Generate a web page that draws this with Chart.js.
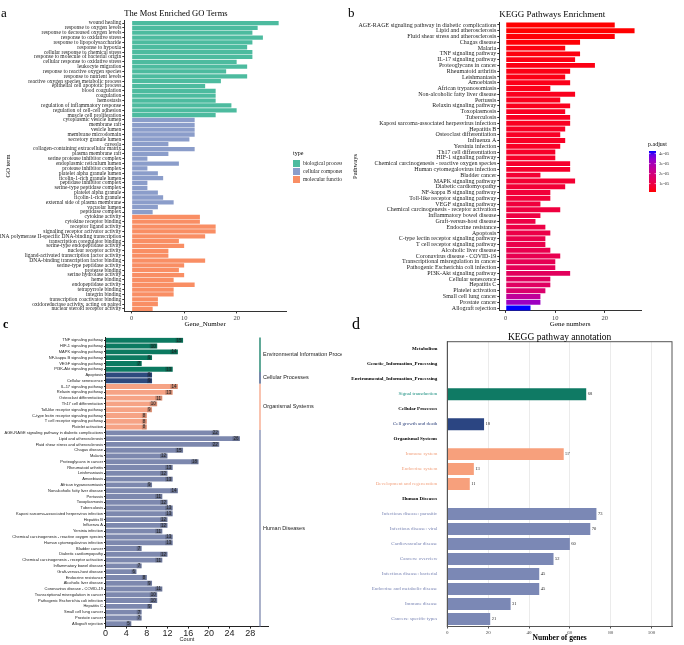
<!DOCTYPE html>
<html>
<head>
<meta charset="utf-8">
<script src="https://cdn.jsdelivr.net/npm/chart.js@4.4.0/dist/chart.umd.min.js"></script>
<style>
  html, body { margin: 0; padding: 0; background: #fff; }
  #wrap { position: relative; width: 684px; height: 645px; overflow: hidden; }
  canvas { position: absolute; }
</style>
</head>
<body>
<div id="wrap">
  <canvas id="goChart" width="342" height="330" style="left:0;top:0"></canvas>
  <canvas id="keggChart" width="342" height="330" style="left:342px;top:0"></canvas>
  <canvas id="classChart" width="342" height="330" style="left:0;top:315px"></canvas>
  <canvas id="annoChart" width="342" height="330" style="left:342px;top:315px"></canvas>
</div>
<script>
const SERIF = '"Liberation Serif", "Times New Roman", serif';
const SANS = '"Liberation Sans", Arial, sans-serif';

// ---- panel a : GO terms ----
const bpTerms = ['wound healing', 'response to oxygen levels', 'response to decreased oxygen levels', 'response to oxidative stress',
  'response to lipopolysaccharide', 'response to hypoxia', 'cellular response to chemical stress', 'response to molecule of bacterial origin',
  'cellular response to oxidative stress', 'leukocyte migration', 'response to reactive oxygen species', 'response to nutrient levels',
  'reactive oxygen species metabolic process', 'epithelial cell apoptotic process', 'blood coagulation', 'coagulation', 'hemostasis',
  'regulation of inflammatory response', 'regulation of cell-cell adhesion', 'muscle cell proliferation'];
const bpCounts = [28, 24, 23, 25, 23, 22, 23, 23, 20, 22, 18, 22, 17, 14, 16, 16, 16, 19, 20, 16];
const ccTerms = ['cytoplasmic vesicle lumen', 'membrane raft', 'vesicle lumen', 'membrane microdomain', 'secretory granule lumen', 'caveola',
  'collagen-containing extracellular matrix', 'plasma membrane raft', 'serine protease inhibitor complex', 'endoplasmic reticulum lumen',
  'protease inhibitor complex', 'platelet alpha granule lumen', 'ficolin-1-rich granule lumen', 'peptidase inhibitor complex',
  'serine-type peptidase complex', 'platelet alpha granule', 'ficolin-1-rich granule', 'external side of plasma membrane',
  'vacuolar lumen', 'peptidase complex'];
const ccCounts = [12, 12, 12, 12, 11, 7, 12, 7, 3, 9, 3, 5, 6, 3, 3, 5, 6, 8, 5, 4];
const mfTerms = ['cytokine activity', 'cytokine receptor binding', 'receptor ligand activity', 'signaling receptor activator activity',
  'RNA polymerase II-specific DNA-binding transcription', 'transcription coregulator binding', 'serine-type endopeptidase activity',
  'nuclear receptor activity', 'ligand-activated transcription factor activity', 'DNA-binding transcription factor binding',
  'serine-type peptidase activity', 'protease binding', 'serine hydrolase activity', 'heme binding', 'endopeptidase activity',
  'tetrapyrrole binding', 'integrin binding', 'transcription coactivator binding', 'oxidoreductase activity, acting on paired',
  'nuclear steroid receptor activity'];
const mfCounts = [13, 13, 16, 16, 14, 9, 10, 7, 7, 14, 10, 9, 10, 8, 12, 8, 8, 5, 5, 4];
const goTypes = ['biological process', 'cellular component', 'molecular function'];
const goColors = ['#4dbb9f', '#8b9dca', '#f98e64'];

// ---- panel b : KEGG enrichment ----
const keggPathways = ['AGE-RAGE signaling pathway in diabetic complications', 'Lipid and atherosclerosis', 'Fluid shear stress and atherosclerosis',
  'Chagas disease', 'Malaria', 'TNF signaling pathway', 'IL-17 signaling pathway', 'Proteoglycans in cancer', 'Rheumatoid arthritis',
  'Leishmaniasis', 'Amoebiasis', 'African trypanosomiasis', 'Non-alcoholic fatty liver disease', 'Pertussis', 'Relaxin signaling pathway',
  'Toxoplasmosis', 'Tuberculosis', 'Kaposi sarcoma-associated herpesvirus infection', 'Hepatitis B', 'Osteoclast differentiation',
  'Influenza A', 'Yersinia infection', 'Th17 cell differentiation', 'HIF-1 signaling pathway',
  'Chemical carcinogenesis - reactive oxygen species', 'Human cytomegalovirus infection', 'Bladder cancer', 'MAPK signaling pathway',
  'Diabetic cardiomyopathy', 'NF-kappa B signaling pathway', 'Toll-like receptor signaling pathway', 'VEGF signaling pathway',
  'Chemical carcinogenesis - receptor activation', 'Inflammatory bowel disease', 'Graft-versus-host disease', 'Endocrine resistance',
  'Apoptosis', 'C-type lectin receptor signaling pathway', 'T cell receptor signaling pathway', 'Alcoholic liver disease',
  'Coronavirus disease - COVID-19', 'Transcriptional misregulation in cancer', 'Pathogenic Escherichia coli infection',
  'PI3K-Akt signaling pathway', 'Cellular senescence', 'Hepatitis C', 'Platelet activation', 'Small cell lung cancer',
  'Prostate cancer', 'Allograft rejection'];
const keggCounts = [22, 26, 22, 15, 12, 15, 14, 18, 13, 12, 13, 9, 14, 11, 13, 12, 13, 13, 12, 11, 12, 11, 10, 10, 13, 13, 7, 14, 12,
  9, 9, 7, 11, 7, 6, 8, 9, 8, 8, 9, 11, 10, 10, 13, 9, 9, 8, 7, 7, 5];
const keggPadj = [0.16, 0.16, 0.2, 0.2, 0.25, 0.25, 0.3, 0.3, 0.3, 0.3, 0.35, 0.35, 0.4, 0.4, 0.4, 0.45, 0.45, 0.45, 0.5, 0.5, 0.5,
  0.5, 0.55, 0.55, 0.6, 0.6, 0.7, 0.7, 0.75, 0.8, 0.8, 0.85, 0.9, 0.95, 1.0, 1.0, 1.05, 1.1, 1.1, 1.15, 1.2, 1.25, 1.3, 1.4, 1.45,
  1.5, 1.7, 2.5, 3.2, 4.26].map(v => v * 1e-5);
const padjTicks = [1e-5, 2e-5, 3e-5, 4e-5];

// ---- panel c : KEGG classes ----
const classGroups = ['Environmental Information Processing', 'Cellular Processes', 'Organismal Systems', 'Human Diseases'];
const classColors = ['#0c7a61', '#2e4a7e', '#f6a385', '#7d88ae'];
const envPathways = ['TNF signaling pathway', 'HIF-1 signaling pathway', 'MAPK signaling pathway', 'NF-kappa B signaling pathway',
  'VEGF signaling pathway', 'PI3K-Akt signaling pathway'];
const envCounts = [15, 10, 14, 9, 7, 13];
const cellPathways = ['Apoptosis', 'Cellular senescence'];
const cellCounts = [9, 9];
const orgPathways = ['IL-17 signaling pathway', 'Relaxin signaling pathway', 'Osteoclast differentiation', 'Th17 cell differentiation',
  'Toll-like receptor signaling pathway', 'C-type lectin receptor signaling pathway', 'T cell receptor signaling pathway', 'Platelet activation'];
const orgCounts = [14, 13, 11, 10, 9, 8, 8, 8];
const hdPathways = ['AGE-RAGE signaling pathway in diabetic complications', 'Lipid and atherosclerosis', 'Fluid shear stress and atherosclerosis',
  'Chagas disease', 'Malaria', 'Proteoglycans in cancer', 'Rheumatoid arthritis', 'Leishmaniasis', 'Amoebiasis', 'African trypanosomiasis',
  'Nonalcoholic fatty liver disease', 'Pertussis', 'Toxoplasmosis', 'Tuberculosis', 'Kaposi sarcoma-associated herpesvirus infection',
  'Hepatitis B', 'Influenza A', 'Yersinia infection', 'Chemical carcinogenesis - reactive oxygen species', 'Human cytomegalovirus infection',
  'Bladder cancer', 'Diabetic cardiomyopathy', 'Chemical carcinogenesis - receptor activation', 'Inflammatory bowel disease',
  'Graft-versus-host disease', 'Endocrine resistance', 'Alcoholic liver disease', 'Coronavirus disease - COVID-19',
  'Transcriptional misregulation in cancer', 'Pathogenic Escherichia coli infection', 'Hepatitis C', 'Small cell lung cancer',
  'Prostate cancer', 'Allograft rejection'];
const hdCounts = [22, 26, 22, 15, 12, 18, 13, 12, 13, 9, 14, 11, 12, 13, 13, 12, 12, 11, 13, 13, 7, 12, 11, 7, 6, 8, 9, 11, 10, 10,
  9, 7, 7, 5];
const countTicks = [0, 4, 8, 12, 16, 20, 24, 28];

// ---- panel d : KEGG annotation ----
const annoLabels = ['Metabolism', 'Genetic_Information_Processing', 'Environmental_Information_Processing', 'Signal transduction',
  'Cellular Processes', 'Cell growth and death', 'Organismal Systems', 'Immune system', 'Endocrine system',
  'Development and regeneration', 'Human Diseases', 'Infectious disease: parasitic', 'Infectious disease: viral',
  'Cardiovascular disease', 'Cancers: overview', 'Infectious disease: bacterial', 'Endocrine and metabolic disease',
  'Immune disease', 'Cancers: specific types'];
const annoGenes = [null, null, null, 68, null, 18, null, 57, 13, 11, null, 73, 70, 60, 52, 45, 45, 31, 21];
const annoGroup = ['head', 'head', 'head', 'env', 'head', 'cell', 'head', 'org', 'org', 'org', 'head', 'hd', 'hd', 'hd', 'hd', 'hd',
  'hd', 'hd', 'hd'];
const annoBarColor = { env: '#0f7a64', cell: '#2b4582', org: '#f7a07c', hd: '#7b88b5' };
const annoTextColor = { head: '#000', env: '#1b8f80', cell: '#2b3f7a', org: '#f2a27f', hd: '#7b86b5' };

// red -> blue ramp interpolated in Lab, as ggplot does
function toLab(hex) {
  const n = parseInt(hex.slice(1), 16);
  const lin = c => { c /= 255; return c <= 0.04045 ? c / 12.92 : Math.pow((c + 0.055) / 1.055, 2.4); };
  const R = lin(n >> 16), G = lin((n >> 8) & 255), B = lin(n & 255);
  const X = (R * 0.4124 + G * 0.3576 + B * 0.1805) / 0.95047;
  const Y = R * 0.2126 + G * 0.7152 + B * 0.0722;
  const Z = (R * 0.0193 + G * 0.1192 + B * 0.9505) / 1.08883;
  const f = t => t > 0.008856 ? Math.cbrt(t) : 7.787 * t + 16 / 116;
  return [116 * f(Y) - 16, 500 * (f(X) - f(Y)), 200 * (f(Y) - f(Z))];
}
function fromLab(L, a, b) {
  const fy = (L + 16) / 116, fx = fy + a / 500, fz = fy - b / 200;
  const inv = t => t > 0.206893 ? t * t * t : (t - 16 / 116) / 7.787;
  const X = inv(fx) * 0.95047, Y = inv(fy), Z = inv(fz) * 1.08883;
  const gam = c => {
    c = c <= 0.0031308 ? 12.92 * c : 1.055 * Math.pow(c, 1 / 2.4) - 0.055;
    return Math.round(Math.min(1, Math.max(0, c)) * 255);
  };
  return 'rgb(' + gam(X * 3.2406 - Y * 1.5372 - Z * 0.4986) + ',' + gam(-X * 0.9689 + Y * 1.8758 + Z * 0.0415) + ',' +
    gam(X * 0.0557 - Y * 0.2040 + Z * 1.0570) + ')';
}
const labLow = toLab('#ff0000'), labHigh = toLab('#0000ff');
const pMin = Math.min(...keggPadj), pMax = Math.max(...keggPadj);
function padjColor(p) {
  const t = (p - pMin) / (pMax - pMin);
  return fromLab(labLow[0] + (labHigh[0] - labLow[0]) * t, labLow[1] + (labHigh[1] - labLow[1]) * t,
    labLow[2] + (labHigh[2] - labLow[2]) * t);
}

const points = (terms, counts) => terms.map((t, i) => ({ y: t, x: counts[i] }));
const fixTicks = vals => scale => { scale.ticks = vals.map(v => ({ value: v })); };

// ===== a =====
const goDecor = {
  id: 'goDecor',
  afterDraw(chart) {
    const ctx = chart.ctx;
    ctx.save();
    ctx.fillStyle = '#000';
    ctx.textBaseline = 'middle';
    ctx.font = '13px ' + SERIF;
    ctx.fillText('a', 1, 14);
    ctx.font = '8.5px ' + SERIF;
    ctx.fillText('The Most Enriched GO Terms', chart.chartArea.left, 14);
    ctx.font = '6px ' + SERIF;
    ctx.fillText('type', 293, 153);
    goTypes.forEach((t, i) => {
      ctx.fillStyle = goColors[i];
      ctx.fillRect(293, 160 + i * 8, 7, 7);
      ctx.fillStyle = '#222';
      ctx.font = '5.5px ' + SERIF;
      ctx.fillText(t, 303, 163.5 + i * 8);
    });
    ctx.restore();
  }
};

new Chart(document.getElementById('goChart'), {
  type: 'bar',
  data: {
    labels: bpTerms.concat(ccTerms, mfTerms),
    datasets: [
      { label: goTypes[0], data: points(bpTerms, bpCounts), backgroundColor: goColors[0] },
      { label: goTypes[1], data: points(ccTerms, ccCounts), backgroundColor: goColors[1] },
      { label: goTypes[2], data: points(mfTerms, mfCounts), backgroundColor: goColors[2] }
    ]
  },
  options: {
    indexAxis: 'y',
    responsive: false,
    animation: false,
    layout: { padding: { left: 0, top: 20.6, right: 56, bottom: 0 } },
    datasets: { bar: { grouped: false, barPercentage: 0.88, categoryPercentage: 1 } },
    plugins: { legend: { display: false }, tooltip: { enabled: false } },
    scales: {
      x: {
        type: 'linear', min: -1.4, max: 29.4,
        afterBuildTicks: fixTicks([0, 10, 20]),
        afterFit: s => { s.height = 18.6; },
        grid: { drawOnChartArea: false, tickLength: 2, color: '#333' },
        border: { color: '#333' },
        ticks: { font: { family: SERIF, size: 6.5 }, color: '#444', padding: 1, maxRotation: 0 },
        title: { display: true, text: 'Gene_Number', font: { family: SERIF, size: 7 }, color: '#000', padding: { top: 0, bottom: 2 } }
      },
      y: {
        afterFit: s => { s.width = 124.3; },
        grid: { drawOnChartArea: false, offset: false, tickLength: 2, color: '#333' },
        border: { color: '#333' },
        ticks: { autoSkip: false, font: { family: SERIF, size: 5.5 }, color: '#222', padding: 1 },
        title: { display: true, text: 'GO term', font: { family: SERIF, size: 6.5 }, color: '#000', padding: { top: 4, bottom: 0 } }
      }
    }
  },
  plugins: [goDecor]
});

// ===== b =====
const keggDecor = {
  id: 'keggDecor',
  afterDraw(chart) {
    const ctx = chart.ctx;
    ctx.save();
    ctx.fillStyle = '#000';
    ctx.textBaseline = 'middle';
    ctx.font = '13px ' + SERIF;
    ctx.fillText('b', 6, 14);
    ctx.font = '9px ' + SERIF;
    ctx.fillText('KEGG Pathways Enrichment', chart.chartArea.left, 15);
    // colour bar
    const x0 = 307, top = 151, bottom = 192;
    const pix = p => bottom - (p - pMin) / (pMax - pMin) * (bottom - top);
    const grad = ctx.createLinearGradient(0, bottom, 0, top);
    for (let k = 0; k <= 10; k++) grad.addColorStop(k / 10, padjColor(pMin + (pMax - pMin) * k / 10));
    ctx.fillStyle = grad;
    ctx.fillRect(x0, top, 7, bottom - top);
    ctx.fillStyle = '#000';
    ctx.font = '6px ' + SERIF;
    ctx.fillText('p.adjust', 306, 144);
    ctx.font = '4.5px ' + SERIF;
    ctx.strokeStyle = '#fff';
    ctx.lineWidth = 0.6;
    padjTicks.forEach(p => {
      const y = pix(p);
      ctx.beginPath();
      ctx.moveTo(x0, y); ctx.lineTo(x0 + 1.5, y);
      ctx.moveTo(x0 + 5.5, y); ctx.lineTo(x0 + 7, y);
      ctx.stroke();
      ctx.fillStyle = '#333';
      ctx.fillText(p.toExponential(0).replace('e-', 'e-0'), x0 + 10, y);
    });
    ctx.restore();
  }
};

new Chart(document.getElementById('keggChart'), {
  type: 'bar',
  data: {
    labels: keggPathways,
    datasets: [{ label: 'Gene numbers', data: keggCounts, backgroundColor: keggPadj.map(padjColor) }]
  },
  options: {
    indexAxis: 'y',
    responsive: false,
    animation: false,
    layout: { padding: { left: 0, top: 22.1, right: 43, bottom: 0 } },
    datasets: { bar: { barPercentage: 0.85, categoryPercentage: 1 } },
    plugins: { legend: { display: false }, tooltip: { enabled: false } },
    scales: {
      x: {
        type: 'linear', min: -1.3, max: 27.3,
        afterBuildTicks: fixTicks([0, 10, 20]),
        afterFit: s => { s.height = 19.1; },
        grid: { drawOnChartArea: false, tickLength: 2, color: '#333' },
        border: { color: '#333' },
        ticks: { font: { family: SERIF, size: 6.5 }, color: '#444', padding: 1, maxRotation: 0 },
        title: { display: true, text: 'Gene numbers', font: { family: SERIF, size: 7 }, color: '#000', padding: { top: 0, bottom: 2 } }
      },
      y: {
        afterFit: s => { s.width = 157.3; },
        grid: { drawOnChartArea: false, offset: false, tickLength: 2, color: '#333' },
        border: { color: '#333' },
        ticks: { autoSkip: false, font: { family: SERIF, size: 6 }, color: '#222', padding: 1 },
        title: { display: true, text: 'Pathways', font: { family: SERIF, size: 6.5 }, color: '#000', padding: { top: 9, bottom: 0 } }
      }
    }
  },
  plugins: [keggDecor]
});

// ===== c =====
const classSets = [[envPathways, envCounts], [cellPathways, cellCounts], [orgPathways, orgCounts], [hdPathways, hdCounts]];
const classDecor = {
  id: 'classDecor',
  afterDatasetsDraw(chart) {
    const ctx = chart.ctx;
    ctx.save();
    ctx.font = '4.5px ' + SANS;
    ctx.textAlign = 'right';
    ctx.textBaseline = 'middle';
    chart.data.datasets.forEach((ds, di) => {
      chart.getDatasetMeta(di).data.forEach((bar, i) => {
        const txt = String(ds.data[i].x);
        const w = ctx.measureText(txt).width + 2;
        ctx.fillStyle = 'rgba(0,0,0,0.18)';
        ctx.fillRect(bar.x - w - 0.5, bar.y - 2.4, w, 4.8);
        ctx.fillStyle = '#222';
        ctx.fillText(txt, bar.x - 1.5, bar.y + 0.2);
      });
    });
    ctx.restore();
  },
  afterDraw(chart) {
    const ctx = chart.ctx;
    const ys = chart.scales.y;
    const step = ys.getPixelForValue(1) - ys.getPixelForValue(0);
    ctx.save();
    ctx.fillStyle = '#000';
    ctx.textBaseline = 'middle';
    ctx.font = 'bold 12px ' + SERIF;
    ctx.fillText('c', 3, 10);
    let start = 0;
    classSets.forEach(([names], g) => {
      const y1 = ys.getPixelForValue(start) - step / 2;
      const y2 = ys.getPixelForValue(start + names.length - 1) + step / 2;
      ctx.strokeStyle = classColors[g];
      ctx.lineWidth = 1.3;
      ctx.beginPath();
      ctx.moveTo(260, y1); ctx.lineTo(260, y2);
      ctx.stroke();
      const mid = g === 3 ? ys.getPixelForValue(start + 16.5) : (y1 + y2) / 2;
      ctx.fillStyle = '#222';
      ctx.font = '5.5px ' + SANS;
      ctx.fillText(classGroups[g], 263, mid);
      start += names.length;
    });
    ctx.restore();
  }
};

new Chart(document.getElementById('classChart'), {
  type: 'bar',
  data: {
    labels: [].concat(envPathways, cellPathways, orgPathways, hdPathways),
    datasets: classSets.map(([names, counts], g) => ({
      label: classGroups[g], data: points(names, counts), backgroundColor: classColors[g]
    }))
  },
  options: {
    indexAxis: 'y',
    responsive: false,
    animation: false,
    layout: { padding: { left: 0, top: 22.4, right: 73.6, bottom: 0 } },
    datasets: { bar: { grouped: false, barPercentage: 0.85, categoryPercentage: 1 } },
    plugins: { legend: { display: false }, tooltip: { enabled: false } },
    scales: {
      x: {
        type: 'linear', min: 0, max: 31.5,
        afterBuildTicks: fixTicks(countTicks),
        afterFit: s => { s.height = 18.4; },
        grid: { drawOnChartArea: false, tickLength: 2, color: '#222' },
        border: { color: '#222' },
        ticks: { font: { family: SANS, size: 9 }, color: '#222', padding: 0, maxRotation: 0 },
        title: { display: true, text: 'Count', font: { family: SANS, size: 5.5 }, color: '#222', padding: { top: 0, bottom: 2 } }
      },
      y: {
        afterFit: s => { s.width = 105.5; },
        grid: { drawOnChartArea: false, offset: false, tickLength: 1.5, color: '#222' },
        border: { color: '#222' },
        ticks: { autoSkip: false, font: { family: SANS, size: 4 }, color: '#222', padding: 1 }
      }
    }
  },
  plugins: [classDecor]
});

// ===== d =====
const annoDecor = {
  id: 'annoDecor',
  afterDatasetsDraw(chart) {
    const ctx = chart.ctx;
    ctx.save();
    ctx.font = '4.5px ' + SERIF;
    ctx.fillStyle = '#222';
    ctx.textBaseline = 'middle';
    chart.getDatasetMeta(0).data.forEach((bar, i) => {
      if (annoGenes[i] == null) return;
      ctx.fillText(String(annoGenes[i]), bar.x + 1.5, bar.y);
    });
    ctx.restore();
  },
  afterDraw(chart) {
    const ctx = chart.ctx;
    const a = chart.chartArea;
    ctx.save();
    ctx.strokeStyle = '#555';
    ctx.lineWidth = 1;
    ctx.strokeRect(a.left, a.top, a.right - a.left, a.bottom - a.top);
    ctx.fillStyle = '#000';
    ctx.textBaseline = 'middle';
    ctx.font = '16px ' + SERIF;
    ctx.fillText('d', 10, 10);
    ctx.font = '9.5px ' + SERIF;
    ctx.textAlign = 'center';
    ctx.fillText('KEGG pathway annotation', (a.left + a.right) / 2, 22);
    ctx.restore();
  }
};

new Chart(document.getElementById('annoChart'), {
  type: 'bar',
  data: {
    labels: annoLabels,
    datasets: [{ label: 'Number of genes', data: annoGenes, backgroundColor: annoGroup.map(g => annoBarColor[g] || '#fff') }]
  },
  options: {
    indexAxis: 'y',
    responsive: false,
    animation: false,
    layout: { padding: { left: 0, top: 26.7, right: 12, bottom: 0 } },
    datasets: { bar: { barPercentage: 0.8, categoryPercentage: 1 } },
    plugins: { legend: { display: false }, tooltip: { enabled: false } },
    scales: {
      x: {
        type: 'linear', min: 0, max: 110,
        afterBuildTicks: fixTicks([0, 20, 40, 60, 80, 100]),
        afterFit: s => { s.height = 18.5; },
        grid: { color: '#ebebeb', tickLength: 2, tickColor: '#555' },
        border: { color: '#555' },
        ticks: { font: { family: SERIF, size: 5 }, color: '#444', padding: 1, maxRotation: 0 },
        title: { display: true, text: 'Number of genes', font: { family: SERIF, size: 7.5, weight: 'bold' }, color: '#000', padding: { top: 0, bottom: 2 } }
      },
      y: {
        afterFit: s => { s.width = 105.3; },
        grid: { display: false },
        border: { color: '#555' },
        ticks: {
          autoSkip: false, padding: 2,
          color: c => annoTextColor[annoGroup[c.index]],
          font: c => ({ family: SERIF, size: 5, weight: annoGroup[c.index] === 'head' ? 'bold' : 'normal' })
        }
      }
    }
  },
  plugins: [annoDecor]
});
</script>
</body>
</html>
